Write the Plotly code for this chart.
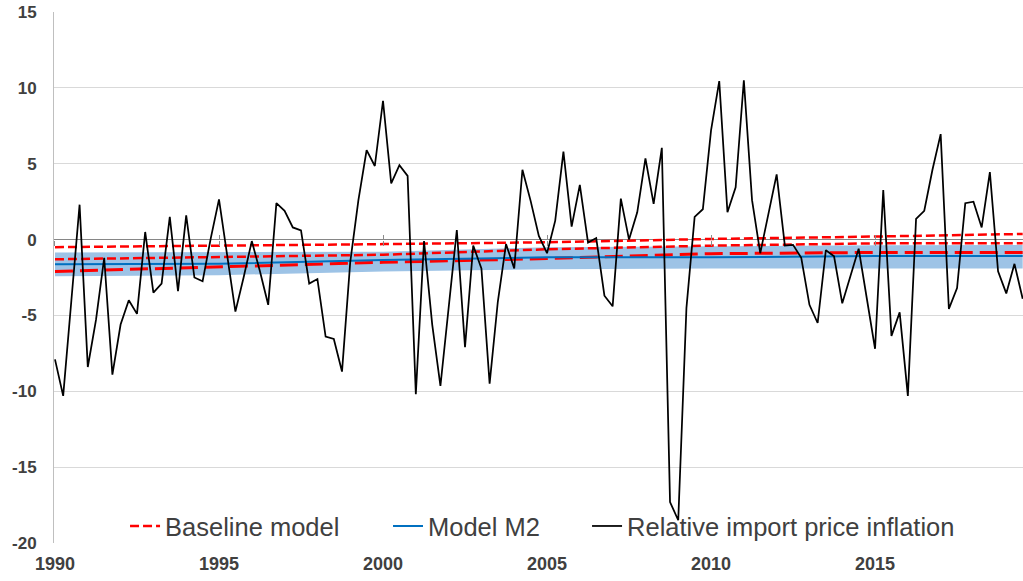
import plotly.graph_objects as go

# ---------------- data ----------------
start_year = 1990
# quarterly relative import price inflation, 1990Q1 .. 2019Q3
rel_import_inflation = [
    -7.9, -10.3, -4.0, 2.3, -8.4, -5.3, -1.2, -8.9, -5.6, -4.0,
    -4.9, 0.5, -3.5, -2.9, 1.5, -3.4, 1.6, -2.5, -2.75, 0.1,
    2.65, -0.9, -4.75, -2.5, -0.1, -2.1, -4.3, 2.4, 1.9, 0.8,
    0.6, -2.9, -2.6, -6.4, -6.55, -8.7, -1.5, 2.6, 5.9, 4.85,
    9.15, 3.7, 4.9, 4.2, -10.2, -0.1, -5.6, -9.65, -4.5, 0.63,
    -7.1, -0.4, -1.9, -9.5, -4.1, -0.3, -1.9, 4.6, 2.55, 0.24,
    -0.9, 1.25, 5.8, 0.85, 3.6, -0.2, 0.1, -3.7, -4.4, 2.7,
    0.0, 1.8, 5.35, 2.35, 6.05, -17.3, -18.5, -4.5, 1.5, 2.0,
    7.2, 10.45, 1.8, 3.45, 10.5, 2.6, -0.9, 1.7, 4.3, -0.4,
    -0.35, -1.2, -4.3, -5.5, -0.7, -1.1, -4.2, -2.4, -0.6, -3.9,
    -7.2, 3.27, -6.35, -4.8, -10.3, 1.36, 1.9, 4.6, 6.95, -4.57,
    -3.2, 2.4, 2.5, 0.8, 4.45, -2.1, -3.55, -1.6, -3.9,
]

# model paths read at these dates
model_dates = [1990, 1995, 2000, 2005, 2010, 2015, 2019.5]
baseline_upper = [-0.5, -0.42, -0.3, -0.18, 0.04, 0.2, 0.37]
baseline_mid = [-1.3, -1.15, -1.0, -0.64, -0.4, -0.25, -0.25]
baseline_lower = [-2.1, -1.8, -1.5, -1.25, -0.93, -0.85, -0.85]
m2_central = [-1.63, -1.6, -1.35, -1.17, -1.17, -1.08, -1.08]
m2_band_upper = [-0.86, -0.84, -0.8, -0.5, -0.42, -0.38, -0.36]
m2_band_lower = [-2.42, -2.35, -2.1, -1.96, -1.9, -1.9, -1.9]

x_tick_years = [1990, 1995, 2000, 2005, 2010, 2015]
y_tick_vals = [-20, -15, -10, -5, 0, 5, 10, 15]
y_tick_text = ["-20", "-15", "-10", "-5", "0", "5", "10", "15"]

quarters = [start_year + i / 4 for i in range(len(rel_import_inflation))]

# ---------------- figure ----------------
RED = "#ff0000"
BLUE = "#0070c0"
BAND = "#9dc3e6"
TXT = "#404040"
FONT = "Liberation Sans, Arial, sans-serif"

fig = go.Figure()

# M2 band
fig.add_trace(go.Scatter(x=model_dates, y=m2_band_upper, mode="lines",
                         line=dict(width=0, color=BAND), showlegend=False,
                         hoverinfo="skip"))
fig.add_trace(go.Scatter(x=model_dates, y=m2_band_lower, mode="lines",
                         line=dict(width=0, color=BAND), fill="tonexty",
                         fillcolor=BAND, showlegend=False, hoverinfo="skip"))

# baseline model lines
fig.add_trace(go.Scatter(x=model_dates, y=baseline_upper, mode="lines",
                         line=dict(color=RED, width=2.5, dash="9px,4px"),
                         showlegend=False))
fig.add_trace(go.Scatter(x=model_dates, y=baseline_mid, mode="lines",
                         name="Baseline model",
                         line=dict(color=RED, width=2.5, dash="9px,4px"),
                         legend="legend", showlegend=True))
fig.add_trace(go.Scatter(x=model_dates, y=baseline_lower, mode="lines",
                         line=dict(color=RED, width=3, dash="18px,7px"),
                         showlegend=False))

# Model M2 central
fig.add_trace(go.Scatter(x=model_dates, y=m2_central, mode="lines",
                         name="Model M2", legend="legend2",
                         line=dict(color=BLUE, width=2)))

# relative import price inflation
fig.add_trace(go.Scatter(x=quarters, y=rel_import_inflation, mode="lines",
                         name="Relative import price inflation",
                         legend="legend3",
                         line=dict(color="black", width=1.75)))

# invisible traces to carry the zero-line tick axes
for ax in ("x2", "x3"):
    fig.add_trace(go.Scatter(x=quarters, y=rel_import_inflation, xaxis=ax,
                             mode="lines", line=dict(width=0),
                             showlegend=False, hoverinfo="skip", opacity=0))

xr = [1989.97, 2019.51]
zero_pos = (0 - (-20)) / 35.0

legend_common = dict(orientation="h", y=-0.013, yanchor="bottom",
                     xanchor="left",
                     font=dict(size=25.5, color=TXT, family=FONT),
                     bgcolor="rgba(0,0,0,0)", itemwidth=30)

fig.update_layout(
    width=1023, height=581,
    margin=dict(l=54, r=0, t=12, b=38),
    paper_bgcolor="white", plot_bgcolor="white",
    font=dict(family=FONT, color=TXT),
    showlegend=True,
    legend=dict(x=0.0733, **legend_common),
    legend2=dict(x=0.3447, **legend_common),
    legend3=dict(x=0.5501, **legend_common),
    xaxis=dict(range=xr, tickvals=x_tick_years,
               ticktext=[str(y) for y in x_tick_years],
               showgrid=False, zeroline=False, showline=False, ticks="",
               automargin=False, ticklabelstandoff=8,
               tickfont=dict(size=18, color=TXT, family=FONT, weight="bold")),
    xaxis2=dict(range=xr, overlaying="x", anchor="free", position=zero_pos,
                tickvals=x_tick_years, ticks="outside", ticklen=5,
                tickcolor="#8c8c8c", tickwidth=1, showticklabels=False,
                showgrid=False, zeroline=False, showline=False,
                automargin=False),
    xaxis3=dict(range=xr, overlaying="x", anchor="free", position=zero_pos,
                tickvals=x_tick_years, ticks="inside", ticklen=5,
                tickcolor="#8c8c8c", tickwidth=1, showticklabels=False,
                showgrid=False, zeroline=False, showline=False,
                automargin=False),
    yaxis=dict(range=[-20, 15], tickvals=y_tick_vals, ticktext=y_tick_text,
               showgrid=True, gridcolor="#d9d9d9", gridwidth=1,
               zeroline=True, zerolinecolor="#868686", zerolinewidth=1,
               showline=True, linecolor="#bfbfbf", linewidth=1,
               ticks="", ticklabelstandoff=13, automargin=False,
               tickfont=dict(size=17, color=TXT, family=FONT, weight="bold")),
)

fig.write_html("out.html",
               config={"displayModeBar": False},
               post_script="document.body.style.margin='0';")
